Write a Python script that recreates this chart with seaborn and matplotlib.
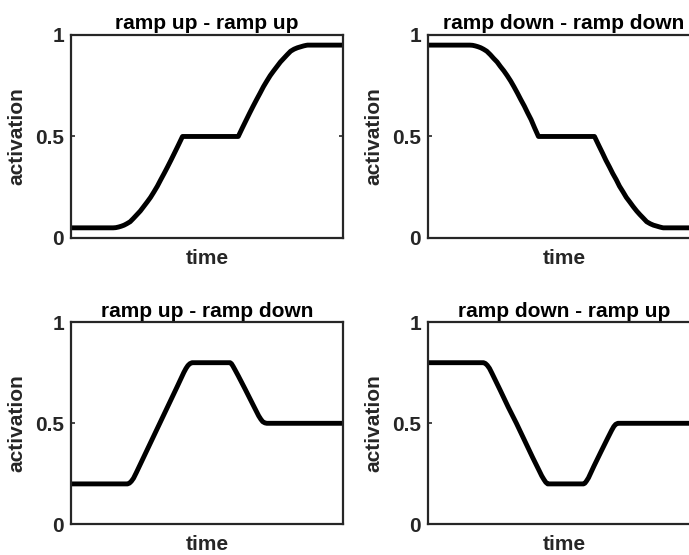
import numpy as np
import pandas as pd
import matplotlib
matplotlib.use('Agg')
import matplotlib.pyplot as plt
import seaborn as sns

# 数据（从原图读取的时间-激活值）
t_uu = [0, 15.5, 16.5, 17.5, 18.5, 19.5, 20.5, 21.75, 23, 24.25, 25.5, 26.75, 28,
        29.25, 30.5, 31.75, 33, 34.25, 35.5, 36.75, 38, 39.5, 41,
        61.5, 63, 64.5, 65.75, 67, 68.25, 69.5, 70.75, 72, 73.25, 74.5, 75.75,
        77, 78.25, 79.5, 80.75, 82, 83.25, 84.5, 85.5, 86.5, 87, 100]
a_uu = [0.05, 0.05, 0.051, 0.054, 0.058, 0.063, 0.07, 0.08, 0.097, 0.115, 0.133, 0.155, 0.177,
        0.20, 0.227, 0.255, 0.287, 0.318, 0.35, 0.383, 0.417, 0.458, 0.50,
        0.50, 0.542, 0.583, 0.617, 0.65, 0.682, 0.713, 0.745, 0.773, 0.80, 0.823, 0.845,
        0.867, 0.885, 0.903, 0.92, 0.93, 0.937, 0.942, 0.946, 0.949, 0.95, 0.95]

t_dd = [0, 15.4, 16.4, 17.4, 18.4, 19.4, 20.4, 21.6, 22.9, 24.1, 25.4, 26.6, 27.9,
        29.1, 30.4, 31.6, 32.9, 34.1, 35.4, 36.6, 37.9, 39.2, 40.6,
        61.2, 62.7, 64.2, 65.4, 66.7, 67.9, 69.2, 70.4, 71.7, 72.9, 74.2, 75.4,
        76.7, 77.9, 79.2, 80.4, 81.7, 82.9, 84.2, 85.2, 86.1, 86.5, 100]
a_dd = [0.95, 0.95, 0.949, 0.946, 0.942, 0.937, 0.93, 0.92, 0.903, 0.885, 0.867, 0.845, 0.823,
        0.80, 0.773, 0.745, 0.713, 0.682, 0.65, 0.617, 0.583, 0.542, 0.50,
        0.50, 0.458, 0.417, 0.383, 0.35, 0.318, 0.287, 0.255, 0.227, 0.20, 0.177, 0.155,
        0.133, 0.115, 0.097, 0.08, 0.07, 0.063, 0.058, 0.054, 0.051, 0.05, 0.05]

t_ud = [0, 20.8, 21.5, 22.2, 23, 24, 27, 30, 33, 36, 39, 41.5, 42.3, 43, 43.7, 44.5,
        58.5, 59, 59.6, 60.3, 61.5, 64, 67, 69, 69.8, 70.5, 71.3, 72, 100]
a_ud = [0.2, 0.2, 0.204, 0.213, 0.228, 0.255, 0.34, 0.425, 0.51, 0.595, 0.68, 0.752, 0.772, 0.786, 0.795, 0.8,
        0.8, 0.795, 0.782, 0.765, 0.735, 0.67, 0.59, 0.537, 0.52, 0.508, 0.502, 0.5, 0.5]

t_du = [0, 20.4, 21.1, 21.8, 22.6, 23.5, 26.5, 29.5, 32.5, 35.5, 38.5, 41, 41.8, 42.6, 43.3, 44,
        57.2, 57.7, 58.3, 59, 61, 63.5, 66, 67.5, 68.3, 69, 69.8, 100]
a_du = [0.8, 0.8, 0.796, 0.787, 0.772, 0.748, 0.665, 0.58, 0.50, 0.415, 0.33, 0.262, 0.24, 0.222, 0.208, 0.2,
        0.2, 0.204, 0.215, 0.23, 0.288, 0.357, 0.425, 0.465, 0.484, 0.495, 0.5, 0.5]

titles = ['ramp up - ramp up', 'ramp down - ramp down',
          'ramp up - ramp down', 'ramp down - ramp up']
curves = [(t_uu, a_uu), (t_dd, a_dd), (t_ud, a_ud), (t_du, a_du)]
y_ticks = [0, 0.5, 1]
y_tick_labels = ['0', '0.5', '1']

sns.set_style('white')
plt.rcParams['font.family'] = ['Liberation Sans', 'DejaVu Sans']
plt.rcParams['font.weight'] = 'bold'

dark = '#262626'
fig = plt.figure(figsize=(6.89, 5.55), dpi=100)

# 四个子图的位置（右列超出画布，与原图裁切一致）
positions = [
    [0.103, 0.5712, 0.3948, 0.3658],
    [0.6212, 0.5712, 0.3948, 0.3658],
    [0.103, 0.0553, 0.3948, 0.364],
    [0.6212, 0.0553, 0.3948, 0.364],
]

for pos, title, (t, a) in zip(positions, titles, curves):
    ax = fig.add_axes(pos)
    df = pd.DataFrame({'time': t, 'activation': a})
    sns.lineplot(data=df, x='time', y='activation', estimator=None,
                 color='black', linewidth=3.5, ax=ax)
    ax.set_xlim(0, 100)
    ax.set_ylim(0, 1)
    ax.set_xticks([])
    ax.set_yticks(y_ticks)
    ax.set_yticklabels(y_tick_labels)
    ax.tick_params(axis='y', direction='in', length=3, width=1.2,
                   left=True, right=True, labelsize=15, labelcolor=dark,
                   color=dark, pad=5)
    for s in ax.spines.values():
        s.set_visible(True)
        s.set_linewidth(1.6)
        s.set_color(dark)
    ax.set_title(title, fontsize=15, fontweight='bold', color='black', pad=4)
    ax.set_xlabel('time', fontsize=15, fontweight='bold', color=dark, labelpad=8)
    ax.set_ylabel('activation', fontsize=15, fontweight='bold', color=dark, labelpad=6)

plt.savefig('out.png', dpi=100)
